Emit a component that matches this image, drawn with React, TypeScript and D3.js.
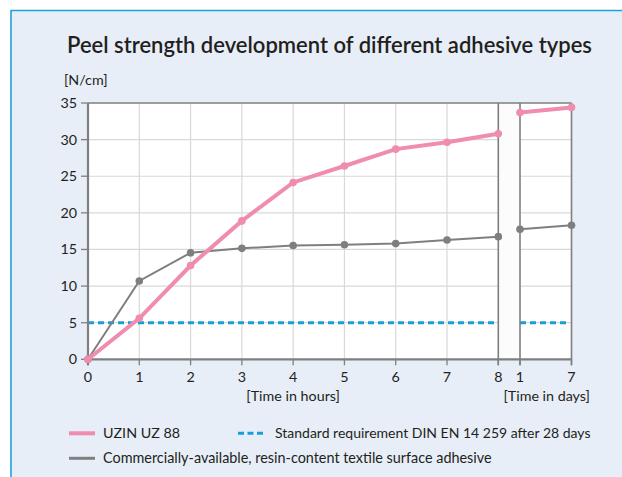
import React from "react";
import * as d3 from "d3";

const hourTicks = [0, 1, 2, 3, 4, 5, 6, 7, 8];
const dayTicks = [1, 7];
const yTicks = [0, 5, 10, 15, 20, 25, 30, 35];

const uzinHours = [0, 5.6, 12.8, 18.9, 24.15, 26.4, 28.7, 29.65, 30.8];
const uzinDays = [33.7, 34.4];
const commHours = [0, 10.7, 14.55, 15.15, 15.55, 15.65, 15.8, 16.3, 16.75];
const commDays = [17.75, 18.3];
const standardValue = 5;

const title = "Peel strength development of different adhesive types";
const legendLabels = [
  "UZIN UZ 88",
  "Standard requirement DIN EN 14 259 after 28 days",
  "Commercially-available, resin-content textile surface adhesive",
];

const FONT = "Lato, 'Open Sans', sans-serif";
const PINK = "#f08cad";
const GRAY = "#7f7f7f";
const BLUE = "#1a9ed8";
const TEXT = "#231f20";

export default function App() {
  const W = 622, H = 477;
  const y = d3.scaleLinear().domain([0, 35]).range([359.3, 103]);
  const xh = d3.scaleLinear().domain([0, 8]).range([88, 498.3]);
  const xd = d3.scaleLinear().domain([1, 7]).range([520, 571.5]);

  const line = d3.line<[number, number]>().x(d => d[0]).y(d => d[1]);

  const seriesPts = (hrs: number[], days: number[]) => ({
    h: hrs.map((v, i) => [xh(hourTicks[i]), y(v)] as [number, number]),
    d: days.map((v, i) => [xd(dayTicks[i]), y(v)] as [number, number]),
  });
  const uz = seriesPts(uzinHours, uzinDays);
  const cm = seriesPts(commHours, commDays);

  const top = y(35), bottom = y(0);

  return (
    <svg width={W} height={H} style={{ position: "absolute", left: 0, top: 0, display: "block" }}>
      <rect x={0} y={0} width={W} height={H} fill="#ffffff" />
      <rect x={11} y={10} width={W - 11} height={H - 10} fill="#e7eef7" />
      <line x1={11} y1={10.5} x2={W} y2={10.5} stroke="#1ba3dd" strokeWidth={1.6} />
      <line x1={11} y1={10} x2={11} y2={H} stroke="#1ba3dd" strokeWidth={1.6} />

      <text x={67} y={53} fontFamily={FONT} fontSize={22} fontWeight={600} fill={TEXT}>{title}</text>
      <text x={64} y={85} fontFamily={FONT} fontSize={14.3} fill={TEXT}>[N/cm]</text>

      {/* plot backgrounds */}
      <rect x={xh(0)} y={top} width={xh(8) - xh(0)} height={bottom - top} fill="#ffffff" />
      <rect x={xh(8)} y={top} width={xd(1) - xh(8)} height={bottom - top} fill="#fcfcfd" />
      <rect x={xd(1)} y={top} width={xd(7) - xd(1)} height={bottom - top} fill="#ffffff" />

      {/* grid */}
      {yTicks.slice(1, -1).map(t => (
        <g key={"gy" + t}>
          <line x1={xh(0)} x2={xh(8)} y1={y(t)} y2={y(t)} stroke="#d9d9d9" strokeWidth={1.2} />
          <line x1={xd(1)} x2={xd(7)} y1={y(t)} y2={y(t)} stroke="#d9d9d9" strokeWidth={1.2} />
        </g>
      ))}
      {hourTicks.slice(1, -1).map(t => (
        <line key={"gx" + t} x1={xh(t)} x2={xh(t)} y1={top} y2={bottom} stroke="#d9d9d9" strokeWidth={1.2} />
      ))}

      {/* standard line */}
      <line x1={xh(0)} x2={xh(8)} y1={y(standardValue)} y2={y(standardValue)} stroke={BLUE} strokeWidth={3} strokeDasharray="6 4" />
      <line x1={xd(1)} x2={xd(7) - 4} y1={y(standardValue)} y2={y(standardValue)} stroke={BLUE} strokeWidth={3} strokeDasharray="6 4" />

      {/* frame */}
      <line x1={xh(0)} x2={xd(7)} y1={top} y2={top} stroke={GRAY} strokeWidth={1.3} />
      {[xh(8), xd(1), xd(7)].map((xx, i) => (
        <line key={"v" + i} x1={xx} x2={xx} y1={top} y2={bottom + 6} stroke={GRAY} strokeWidth={1.6} />
      ))}
      <line x1={xh(0)} x2={xh(0)} y1={top} y2={bottom + 6} stroke={GRAY} strokeWidth={2.2} />
      <line x1={xh(0)} x2={xd(7)} y1={bottom} y2={bottom} stroke={GRAY} strokeWidth={2.2} />

      {/* y ticks */}
      {yTicks.map(t => (
        <g key={"yt" + t}>
          <line x1={xh(0) - 7} x2={xh(0)} y1={y(t)} y2={y(t)} stroke={GRAY} strokeWidth={1.3} />
          <text x={77} y={y(t)} dy="0.35em" textAnchor="end" fontFamily={FONT} fontSize={14.3} fill={TEXT}>{t}</text>
        </g>
      ))}
      {/* x ticks */}
      {hourTicks.map(t => (
        <g key={"xt" + t}>
          <line x1={xh(t)} x2={xh(t)} y1={bottom} y2={bottom + 6} stroke={GRAY} strokeWidth={1.3} />
          <text x={xh(t)} y={382} textAnchor="middle" fontFamily={FONT} fontSize={14.3} fill={TEXT}>{t}</text>
        </g>
      ))}
      {dayTicks.map(t => (
        <g key={"dt" + t}>
          <line x1={xd(t)} x2={xd(t)} y1={bottom} y2={bottom + 6} stroke={GRAY} strokeWidth={1.3} />
          <text x={xd(t)} y={382} textAnchor="middle" fontFamily={FONT} fontSize={14.3} fill={TEXT}>{t}</text>
        </g>
      ))}
      <text x={xh(4)} y={401} textAnchor="middle" fontFamily={FONT} fontSize={14.3} fill={TEXT}>[Time in hours]</text>
      <text x={590} y={401} textAnchor="end" fontFamily={FONT} fontSize={14.3} fill={TEXT}>[Time in days]</text>

      {/* series */}
      <path d={line(cm.h) || ""} fill="none" stroke={GRAY} strokeWidth={2} />
      <path d={line(cm.d) || ""} fill="none" stroke={GRAY} strokeWidth={2} />
      {[...cm.h, ...cm.d].map((p, i) => <circle key={"cp" + i} cx={p[0]} cy={p[1]} r={3.8} fill={GRAY} />)}
      <path d={line(uz.h) || ""} fill="none" stroke={PINK} strokeWidth={4} />
      <path d={line(uz.d) || ""} fill="none" stroke={PINK} strokeWidth={4} />
      {[...uz.h, ...uz.d].map((p, i) => <circle key={"up" + i} cx={p[0]} cy={p[1]} r={3.8} fill={PINK} />)}

      {/* legend */}
      <line x1={69} x2={95} y1={433.3} y2={433.3} stroke={PINK} strokeWidth={4} />
      <text x={103} y={438} fontFamily={FONT} fontSize={14.3} fill={TEXT}>{legendLabels[0]}</text>
      <line x1={238} x2={263} y1={433.3} y2={433.3} stroke={BLUE} strokeWidth={3} strokeDasharray="6 3.5" />
      <text x={275} y={438} fontFamily={FONT} fontSize={14} fill={TEXT}>{legendLabels[1]}</text>
      <line x1={69} x2={95} y1={458.3} y2={458.3} stroke={GRAY} strokeWidth={3} />
      <text x={103} y={463.3} fontFamily={FONT} fontSize={14.4} fill={TEXT}>{legendLabels[2]}</text>
    </svg>
  );
}
